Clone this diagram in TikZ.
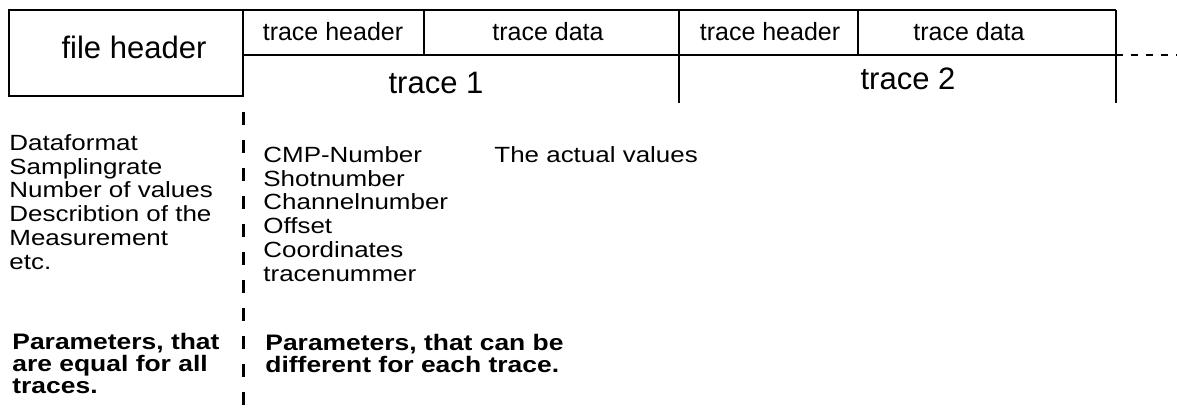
\documentclass[tikz,border=0pt]{standalone}
\usepackage{fontspec}
\setmainfont{Liberation Sans}
\newfontfamily\notefont[FakeStretch=1.18]{Liberation Sans}
\usetikzlibrary{positioning}

\begin{document}
\begin{tikzpicture}[
        x=0.5pt, y=-0.5pt,
        every node/.style={inner sep=0pt},
        big/.style={anchor=base, font=\fontsize{15.5}{18}\selectfont},
        cell/.style={anchor=base, font=\fontsize{12.5}{15}\selectfont},
        note/.style={anchor=base west, align=left, font=\notefont\fontsize{11}{11.85}\selectfont},
        boldnote/.style={anchor=base west, align=left, font=\notefont\bfseries\fontsize{11.2}{10.9}\selectfont},
        frame/.style={line width=1.3pt},
        gap/.style={line width=1.5pt, dash pattern=on 6.5pt off 7.5pt}
    ]
    \useasboundingbox (0,0) rectangle (1177,412);
%
    % File header
    \draw[frame] (9,10) rectangle (243,96);
    \node[big] (fhead) at (134,58) {file header};
%
    % Trace rows
    \draw[frame] (243,10) -- (1116,10);
    \draw[frame] (243,55) -- (1116,55);
    \draw[frame] (424,10) -- (424,55);
    \draw[frame] (679,10) -- (679,103);
    \draw[frame] (858,10) -- (858,55);
    \draw[frame] (1116,10) -- (1116,103);
    \draw[frame, dash pattern=on 3.5pt off 4pt] (1116,55) -- (1177,55);
%
    \node[cell] (thead1) at (333,40) {trace header};
    \node[cell] (tdata1) at (548,40) {trace data};
    \node[cell] (thead2) at (770,40) {trace header};
    \node[cell] (tdata2) at (969,40) {trace data};
    \node[big] (trace1) at (436,93) {trace 1};
    \node[big] (trace2) at (908,89) {trace 2};
%
    % Separator
    \draw[gap] (243,112) -- (243,412);
%
    % Parameters (anchored at the baseline of the last line)
    \node[note] (common) at (9,269) {Dataformat\\Samplingrate\\Number of values\\Describtion of the\\Measurement\\etc.};
    \node[note] (pertrace) at (263,281) {CMP-Number\\Shotnumber\\Channelnumber\\Offset\\Coordinates\\tracenummer};
    \node[note] (values) at (494,162) {The actual values};
    \node[boldnote] (commonnote) at (12,393) {Parameters, that\\are equal for all\\traces.};
    \node[boldnote] (pertracenote) at (265,372) {Parameters, that can be\\different for each trace.};
%
\end{tikzpicture}
\end{document}
